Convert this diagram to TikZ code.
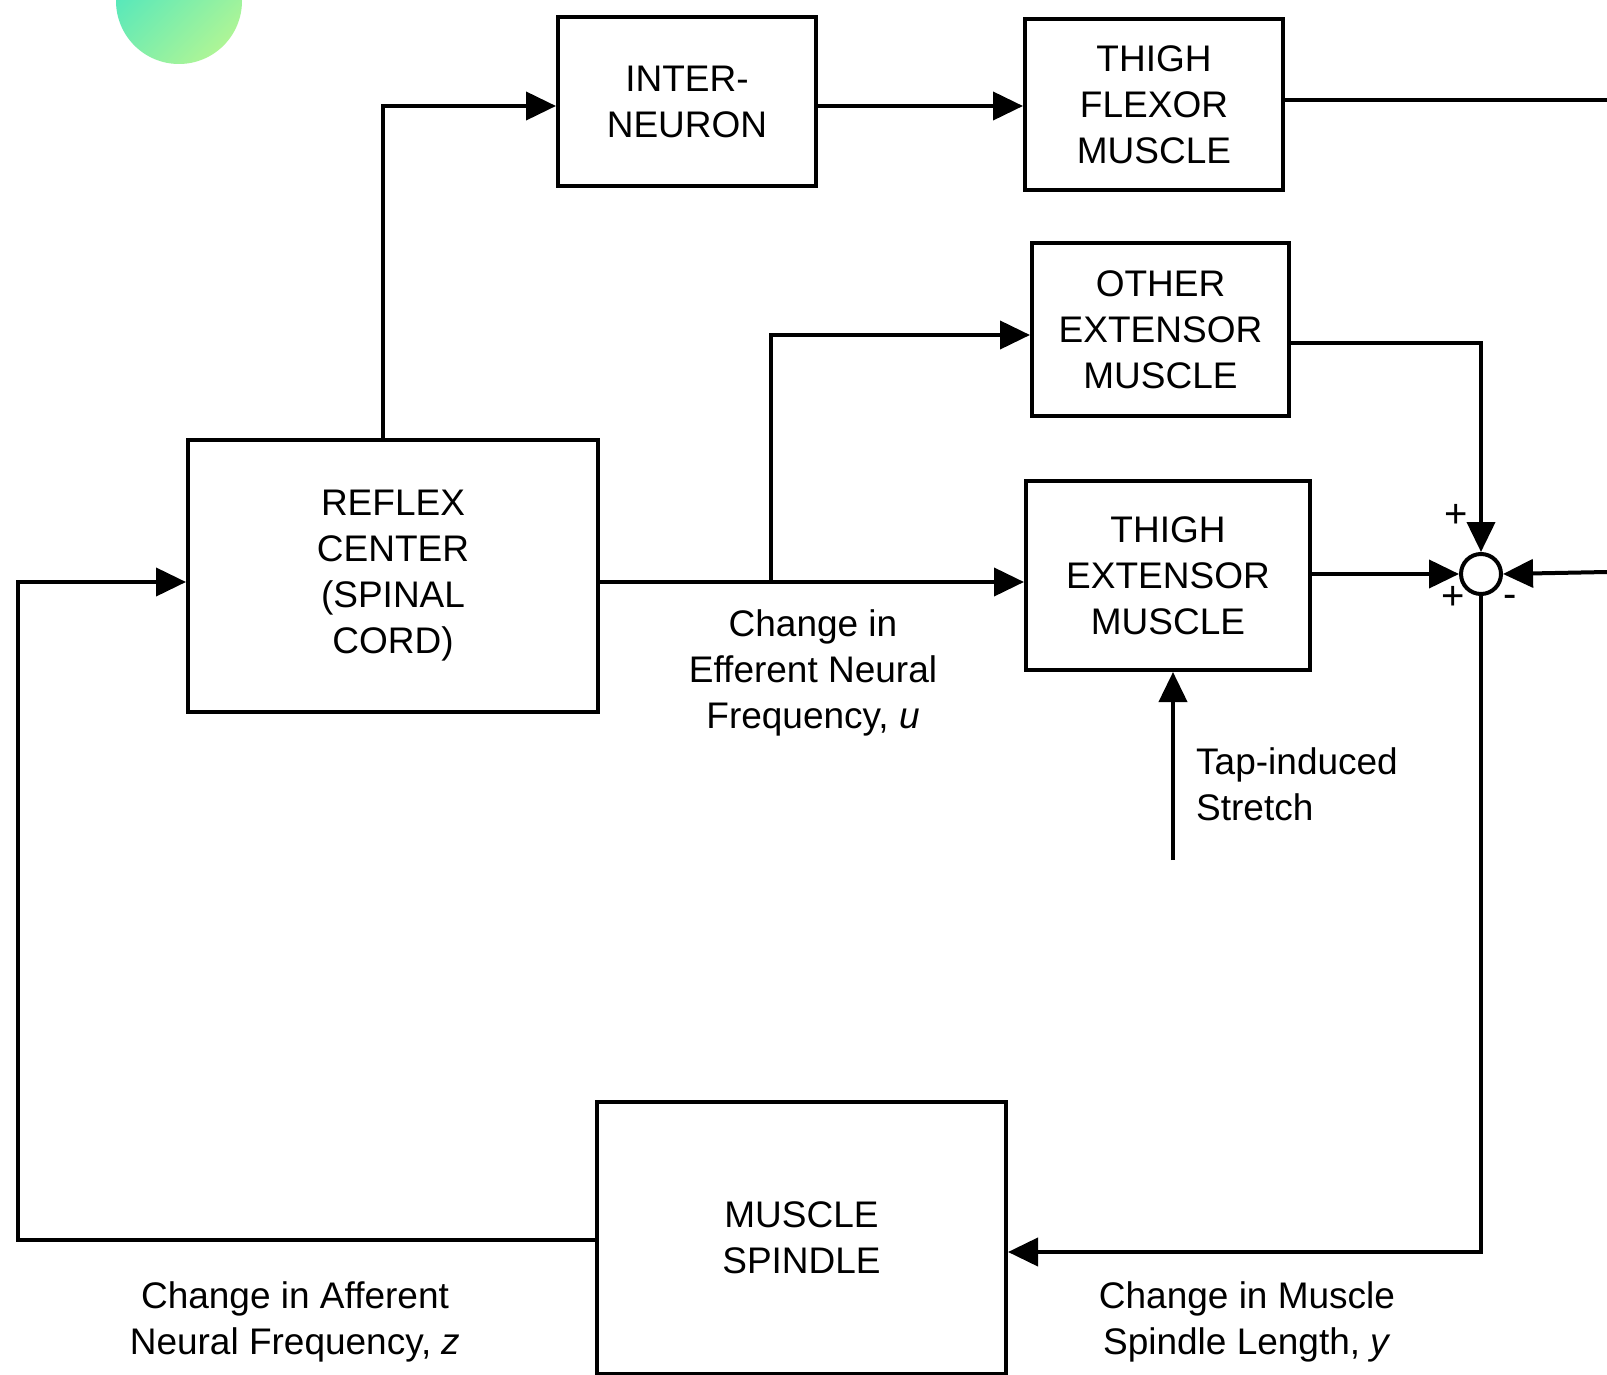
\documentclass[tikz,border=0pt]{standalone}
\usepackage{fontspec}
\setmainfont{Liberation Sans}
\usetikzlibrary{arrows.meta}
\definecolor{tealA}{HTML}{4AE6C0}
\definecolor{greenB}{HTML}{AEF596}
\tikzset{
  blk/.style={draw, line width=4pt, inner sep=0pt, align=center, font=\fontsize{37}{46}\selectfont},
  lbl/.style={inner sep=0pt, align=center, font=\fontsize{37}{46}\selectfont},
  sgn/.style={inner sep=0pt, font=\fontsize{40}{40}\selectfont},
  ln/.style={line width=4pt},
  arr/.style={line width=4pt, -{Triangle[length=30pt,width=28pt]}},
}
\begin{document}
\begin{tikzpicture}[x=1pt,y=-1pt]
\useasboundingbox (0,0) rectangle (1607,1375);
\fill[white] (0,0) rectangle (1607,1375);
\begin{scope}
\clip (0,0) rectangle (1607,1375);
\shade[left color=tealA, right color=greenB, shading angle=45] (179,1) circle[radius=63];

% blocks
\node[blk, minimum width=258pt, minimum height=169pt] (inter) at (687,101.5) {INTER-\\NEURON};
\node[blk, minimum width=258pt, minimum height=171pt] (flex) at (1154,104.5) {THIGH\\FLEXOR\\MUSCLE};
\node[blk, minimum width=257pt, minimum height=173pt] (other) at (1160.5,329.5) {OTHER\\EXTENSOR\\MUSCLE};
\node[blk, minimum width=284pt, minimum height=189pt] (ext) at (1168,575.5) {THIGH\\EXTENSOR\\MUSCLE};
\node[blk, minimum width=410pt, minimum height=272pt] (reflex) at (393,576) {REFLEX\\CENTER\\(SPINAL\\CORD)};
\node[blk, minimum width=409pt, minimum height=272pt] (spindle) at (801.5,1238) {MUSCLE\\SPINDLE};
\node[draw, circle, line width=4pt, minimum size=40pt, inner sep=0pt] (sum) at (1481,574) {};

% helper coordinates
\coordinate (xA) at (383,0);
\coordinate (yA) at (0,106);
\coordinate (yB) at (0,100);
\coordinate (outR) at (1607,100);
\coordinate (yC) at (0,582);
\coordinate (br) at (771,582);
\coordinate (yD) at (0,335);
\coordinate (yE) at (0,343);
\coordinate (inR) at (1607,572);
\coordinate (yF) at (0,1252);
\coordinate (cL) at (18,582);
\coordinate (tap) at (1173,860);

% connectors
\draw[arr] (reflex.north -| xA) |- (inter.west |- yA);
\draw[arr] (inter.east |- yA) -- (flex.west |- yA);
\draw[ln] (flex.east |- yB) -- (outR);
\draw[arr] (reflex.east |- yC) -- (ext.west |- yC);
\draw[arr] (br) |- (other.west |- yD);
\draw[arr] (other.east |- yE) -| (sum.north);
\draw[arr] (ext.east |- sum) -- (sum.west);
\draw[arr] (inR) -- (sum.east);
\draw[arr] (sum.south) |- (spindle.east |- yF);
\draw[arr] ([yshift=-2pt]spindle.west) -| (cL) -- (reflex.west |- cL);
\draw[arr] (tap) -- (tap |- ext.south);

% signs
\node[sgn] (p1) at (1456,516) {+};
\node[sgn] (p2) at (1453,598) {+};
\node[sgn] (m1) at (1510,601) {-};

% labels
\node[lbl] (eff) at (813,673) {Change in\\Efferent Neural\\Frequency, \textit{u}};
\node[lbl, anchor=west, align=left] (tapl) at (1196,784) {Tap-induced\\Stretch};
\node[lbl] (aff) at (295,1322) {Change in Afferent\\Neural Frequency, \textit{z}};
\node[lbl] (len) at (1247,1322) {Change in Muscle\\Spindle Length, \textit{y}};
\end{scope}
\end{tikzpicture}
\end{document}
